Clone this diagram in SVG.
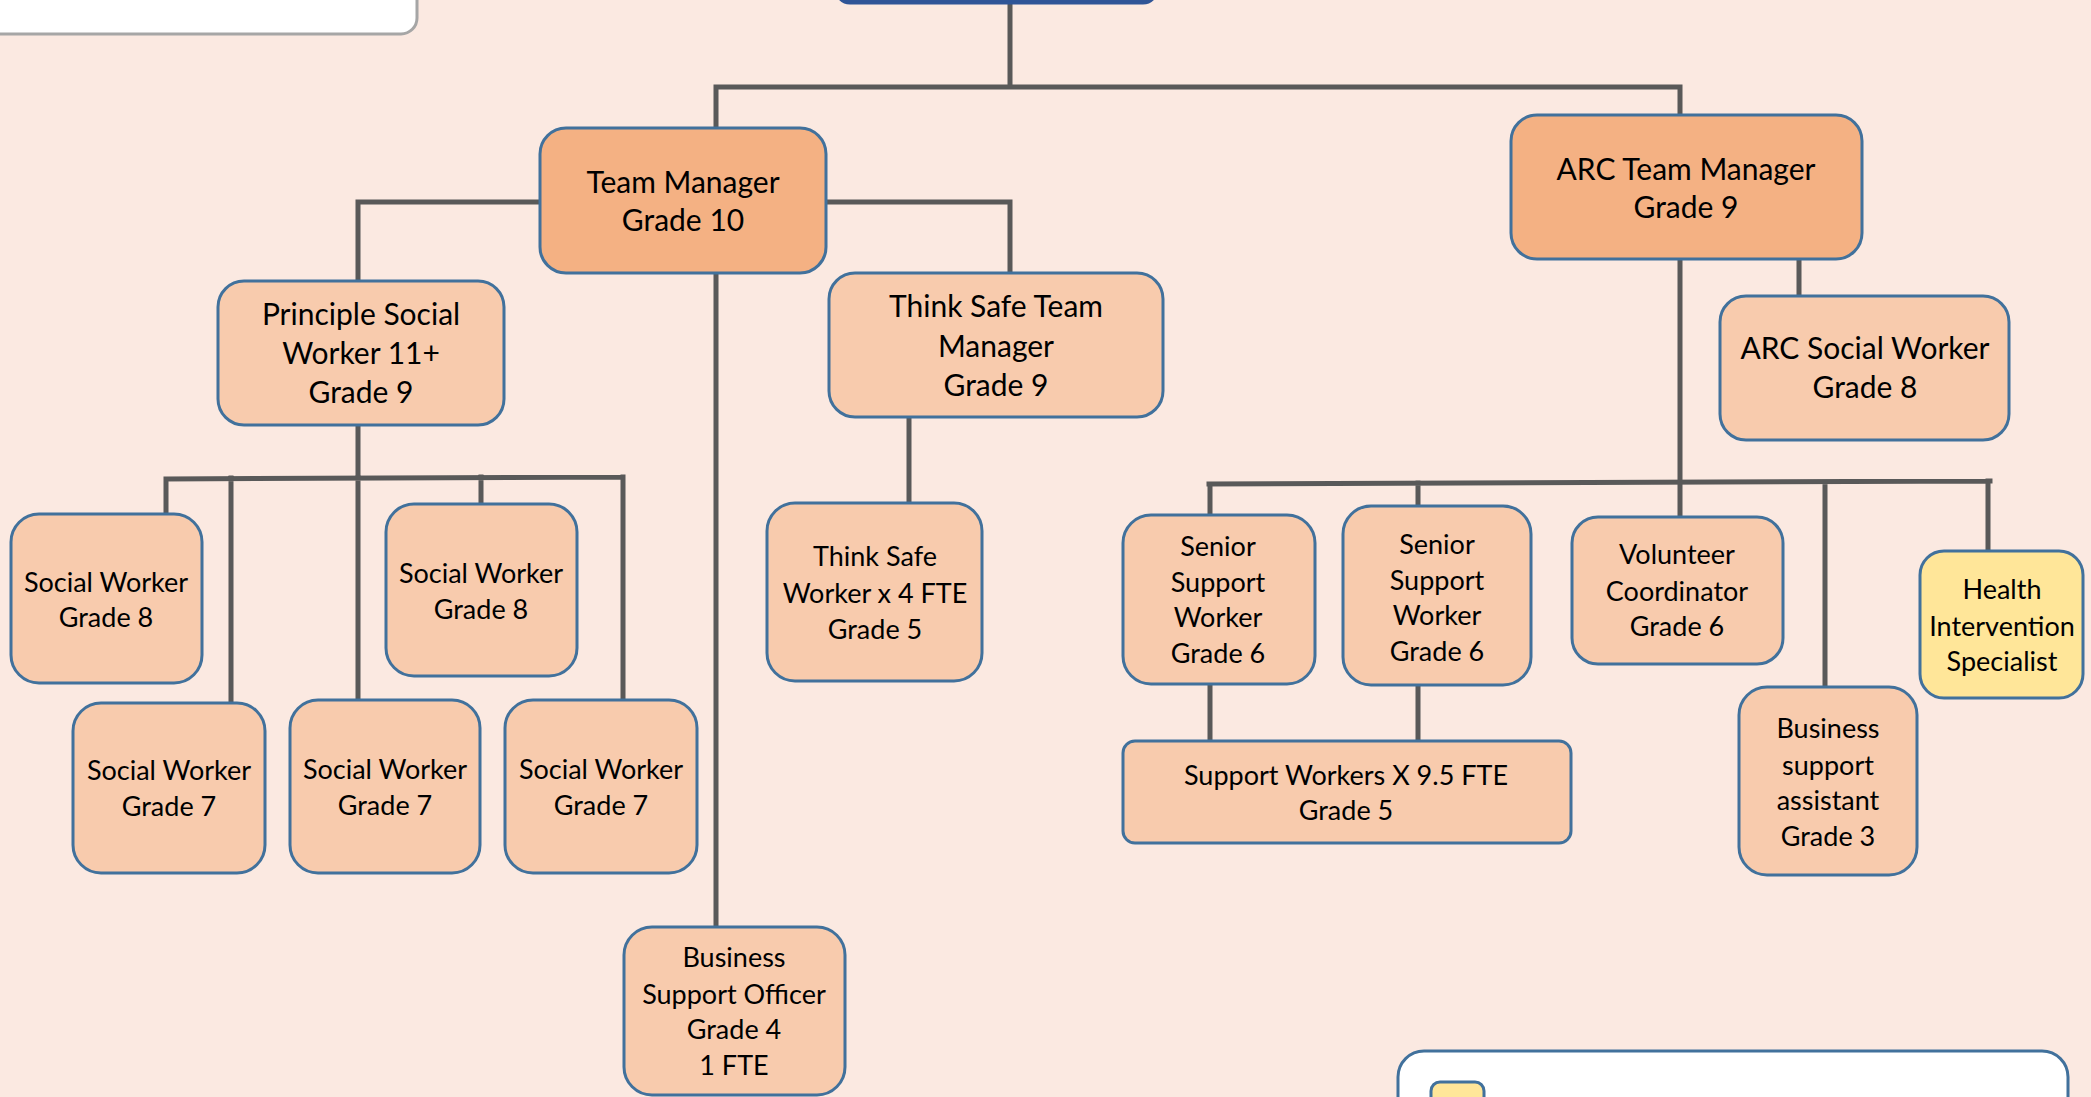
<svg xmlns="http://www.w3.org/2000/svg" width="2091" height="1097" viewBox="0 0 2091 1097">
<style>
.bg{fill:#FBE9E1}
.n{fill:#F8CBAD;stroke:#41719C;stroke-width:3}
.m{fill:#F4B183;stroke:#41719C;stroke-width:3}
.y{fill:#FFE699;stroke:#41719C;stroke-width:3}
.c{fill:none;stroke:#595959;stroke-width:5;stroke-linecap:square}
text{font-family:Lato,"Liberation Sans",sans-serif;fill:#000;text-anchor:middle}
.t1{font-size:30px}
.t2{font-size:27px}
</style>
<rect class="bg" x="0" y="0" width="2091" height="1097"/>
<g id="connectors">
<path class="c" d="M1010 0V87M716 87H1680M716 87V128M1680 87V115"/>
<path class="c" d="M540 202H358V281M826 202H1010V273M716 273V927"/>
<path class="c" d="M358 425V700M166 479L623 477M166 479V514M231 478V703M481 477V504M623 477V700"/>
<path class="c" d="M909 417V503"/>
<path class="c" d="M1680 259V517M1799 259V296"/>
<path class="c" d="M1209 484L1990 481M1210 484V515M1418 483V506M1825 482V687M1988 481V551"/>
<path class="c" d="M1210 684V741M1418 685V741"/>
</g>
<g id="topbox"><rect x="-20" y="-60" width="437" height="94" rx="16" fill="#fff" stroke="#A6A6A6" stroke-width="3"/></g>
<g id="top"><rect x="836" y="-60" width="321" height="63" rx="14" fill="#2F5597" stroke="#2F5597" stroke-width="3"/></g>
<g id="tm"><rect class="m" x="540" y="128" width="286" height="145" rx="26"/><text class="t1" x="683"><tspan x="683" y="193">Team Manager</tspan><tspan x="683" y="231">Grade 10</tspan></text></g>
<g id="arctm"><rect class="m" x="1511" y="115" width="351" height="144" rx="26"/><text class="t1"><tspan x="1686" y="180">ARC Team Manager</tspan><tspan x="1686" y="218">Grade 9</tspan></text></g>
<g id="psw"><rect class="n" x="218" y="281" width="286" height="144" rx="26"/><text class="t1"><tspan x="361" y="325">Principle Social</tspan><tspan x="361" y="364">Worker 11+</tspan><tspan x="361" y="403">Grade 9</tspan></text></g>
<g id="tstm"><rect class="n" x="829" y="273" width="334" height="144" rx="26"/><text class="t1"><tspan x="996" y="317">Think Safe Team</tspan><tspan x="996" y="357">Manager</tspan><tspan x="996" y="396">Grade 9</tspan></text></g>
<g id="arcsw"><rect class="n" x="1720" y="296" width="289" height="144" rx="26"/><text class="t1"><tspan x="1865" y="359">ARC Social Worker</tspan><tspan x="1865" y="398">Grade 8</tspan></text></g>
<g id="sw8a"><rect class="n" x="11" y="514" width="191" height="169" rx="28"/><text class="t2"><tspan x="106" y="592">Social Worker</tspan><tspan x="106" y="627">Grade 8</tspan></text></g>
<g id="sw8b"><rect class="n" x="386" y="504" width="191" height="172" rx="28"/><text class="t2"><tspan x="481" y="583">Social Worker</tspan><tspan x="481" y="619">Grade 8</tspan></text></g>
<g id="sw7a"><rect class="n" x="73" y="703" width="192" height="170" rx="28"/><text class="t2"><tspan x="169" y="780">Social Worker</tspan><tspan x="169" y="816">Grade 7</tspan></text></g>
<g id="sw7b"><rect class="n" x="290" y="700" width="190" height="173" rx="28"/><text class="t2"><tspan x="385" y="779">Social Worker</tspan><tspan x="385" y="815">Grade 7</tspan></text></g>
<g id="sw7c"><rect class="n" x="505" y="700" width="192" height="173" rx="28"/><text class="t2"><tspan x="601" y="779">Social Worker</tspan><tspan x="601" y="815">Grade 7</tspan></text></g>
<g id="tsw"><rect class="n" x="767" y="503" width="215" height="178" rx="28"/><text class="t2"><tspan x="875" y="566">Think Safe</tspan><tspan x="875" y="603">Worker x 4 FTE</tspan><tspan x="875" y="639">Grade 5</tspan></text></g>
<g id="bso"><rect class="n" x="624" y="927" width="221" height="168" rx="28"/><text class="t2"><tspan x="734" y="967">Business</tspan><tspan x="734" y="1004">Support Officer</tspan><tspan x="734" y="1039">Grade 4</tspan><tspan x="734" y="1075">1 FTE</tspan></text></g>
<g id="ssw1"><rect class="n" x="1123" y="515" width="192" height="169" rx="28"/><text class="t2"><tspan x="1218" y="556">Senior</tspan><tspan x="1218" y="592">Support</tspan><tspan x="1218" y="627">Worker</tspan><tspan x="1218" y="663">Grade 6</tspan></text></g>
<g id="ssw2"><rect class="n" x="1343" y="506" width="188" height="179" rx="28"/><text class="t2"><tspan x="1437" y="554">Senior</tspan><tspan x="1437" y="590">Support</tspan><tspan x="1437" y="625">Worker</tspan><tspan x="1437" y="661">Grade 6</tspan></text></g>
<g id="vc"><rect class="n" x="1572" y="517" width="211" height="147" rx="26"/><text class="t2"><tspan x="1677" y="564">Volunteer</tspan><tspan x="1677" y="601">Coordinator</tspan><tspan x="1677" y="636">Grade 6</tspan></text></g>
<g id="bsa"><rect class="n" x="1739" y="687" width="178" height="188" rx="28"/><text class="t2"><tspan x="1828" y="738">Business</tspan><tspan x="1828" y="775">support</tspan><tspan x="1828" y="810">assistant</tspan><tspan x="1828" y="846">Grade 3</tspan></text></g>
<g id="his"><rect class="y" x="1920" y="551" width="163" height="147" rx="24"/><text class="t2"><tspan x="2002" y="599">Health</tspan><tspan x="2002" y="636">Intervention</tspan><tspan x="2002" y="671">Specialist</tspan></text></g>
<g id="swx"><rect class="n" x="1123" y="741" width="448" height="102" rx="12"/><text class="t2"><tspan x="1346" y="785">Support Workers X 9.5 FTE</tspan><tspan x="1346" y="820">Grade 5</tspan></text></g>
<g id="legend"><rect x="1398" y="1051" width="670" height="120" rx="26" fill="#fff" stroke="#41719C" stroke-width="3"/><rect class="y" x="1431" y="1082" width="53" height="50" rx="9"/></g>
</svg>
